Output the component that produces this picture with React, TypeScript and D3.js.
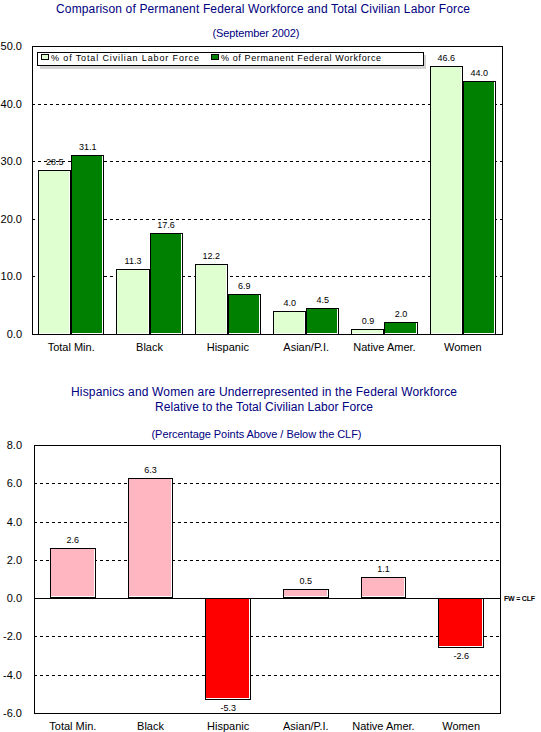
import React from "react";
import * as d3 from "d3";

const categories = ["Total Min.", "Black", "Hispanic", "Asian/P.I.", "Native Amer.", "Women"];
const clfValues = [28.5, 11.3, 12.2, 4.0, 0.9, 46.6];
const fwValues = [31.1, 17.6, 6.9, 4.5, 2.0, 44.0];
const gapValues = [2.6, 6.3, -5.3, 0.5, 1.1, -2.6];
const topTicks = [0, 10, 20, 30, 40, 50];
const bottomTicks = [-6, -4, -2, 0, 2, 4, 6, 8];
const seriesKeys = ["clf", "fw"];
const seriesNames = ["% of Total Civilian Labor Force", "% of Permanent Federal Workforce"];
const titleTop = "Comparison of Permanent Federal Workforce and Total Civilian Labor Force";
const subTitleTop = "(September 2002)";
const titleBottom = [
  "Hispanics and Women are Underrepresented in the Federal Workforce",
  "Relative to the Total Civilian Labor Force",
];
const subTitleBottom = "(Percentage Points Above / Below the CLF)";
const zeroLabel = "FW = CLF";

const W = 541;
const H = 732;
const FONT = "'Liberation Sans', Arial, sans-serif";
const NAVY = "#000080";
const LIGHT_GREEN = "#E0FFD0";
const DARK_GREEN = "#008000";
const PINK = "#FFB6C1";
const RED = "#FF0000";
const seriesColors = [LIGHT_GREEN, DARK_GREEN];

const fmt = d3.formatLocale({ decimal: ".", thousands: ",", grouping: [3], currency: ["", ""], minus: "-" }).format(".1f");

function Bar({ x, w, yA, yB, fill }: { x: number; w: number; yA: number; yB: number; fill: string }) {
  const top = Math.round(Math.min(yA, yB));
  const bot = Math.round(Math.max(yA, yB));
  const l = Math.round(x);
  const r = Math.round(x + w);
  return (
    <g>
      <rect x={l + 0.5} y={top + 0.5} width={r - l - 1} height={bot - top - 1} fill={fill} stroke="#000" />
      <polyline
        points={`${r - 1.5},${top + 1} ${r - 1.5},${bot - 1.5} ${l + 1},${bot - 1.5}`}
        fill="none"
        stroke="#fff"
      />
    </g>
  );
}

export default function App() {
  // ---------- top chart ----------
  const tL = 32, tR = 502, tT = 46, tB = 334;
  const ty = d3.scaleLinear().domain([0, 50]).range([tB, tT]);
  const tx = d3.scaleBand<string>().domain(categories).range([tL, tR]).paddingInner(0.157).paddingOuter(0.0785);
  const tsub = d3.scaleBand<string>().domain(seriesKeys).range([0, tx.bandwidth()]).padding(0);
  const seriesValues = [clfValues, fwValues];

  // ---------- bottom chart ----------
  const bL = 34, bR = 500, bT = 445, bB = 713;
  const by = d3.scaleLinear().domain([-6, 8]).range([bB, bT]);
  const bx = d3.scaleBand<string>().domain(categories).range([bL, bR]).paddingInner(0.413).paddingOuter(0.2065);

  return (
    <svg
      width={W}
      height={H}
      style={{ position: "absolute", left: 0, top: 0, background: "#fff" }}
      fontFamily={FONT}
    >
      <rect x={0} y={0} width={W} height={H} fill="#fff" />

      {/* ===== TOP CHART ===== */}
      <text x={263} y={13} textAnchor="middle" fontSize={12} fill={NAVY} textLength={414} lengthAdjust="spacing">
        {titleTop}
      </text>
      <text x={256} y={37} textAnchor="middle" fontSize={11} fill={NAVY} textLength={87} lengthAdjust="spacing">
        {subTitleTop}
      </text>

      {/* gridlines */}
      <g shapeRendering="crispEdges">
        {topTicks
          .filter((t) => t > 0 && t < 50)
          .map((t) => (
            <line key={t} x1={tL} x2={tR} y1={Math.round(ty(t)) + 0.5} y2={Math.round(ty(t)) + 0.5} stroke="#000" strokeDasharray="3,3" />
          ))}
      </g>
      {/* y tick labels */}
      {topTicks.map((t) => (
        <text key={t} x={22} y={ty(t)} dy="0.36em" textAnchor="end" fontSize={11} fill="#000">
          {fmt(t)}
        </text>
      ))}

      {/* bars */}
      <g shapeRendering="crispEdges">
        {categories.map((c, i) =>
          seriesKeys.map((k, s) => (
            <Bar
              key={c + k}
              x={(tx(c) as number) + (tsub(k) as number)}
              w={tsub.bandwidth()}
              yA={ty(seriesValues[s][i])}
              yB={ty(0) + 1}
              fill={seriesColors[s]}
            />
          ))
        )}
      </g>
      {/* value labels */}
      {categories.map((c, i) =>
        seriesKeys.map((k, s) => (
          <text
            key={"v" + c + k}
            x={(tx(c) as number) + (tsub(k) as number) + tsub.bandwidth() / 2}
            y={ty(seriesValues[s][i]) - 5}
            textAnchor="middle"
            fontSize={9}
            fill="#000"
          >
            {fmt(seriesValues[s][i])}
          </text>
        ))
      )}

      {/* frame */}
      <rect x={tL + 0.5} y={tT + 0.5} width={tR - tL} height={tB - tT} fill="none" stroke="#000" shapeRendering="crispEdges" />

      {/* category labels */}
      {categories.map((c) => (
        <text key={c} x={(tx(c) as number) + tx.bandwidth() / 2} y={351} textAnchor="middle" fontSize={11} fill="#000">
          {c}
        </text>
      ))}

      {/* legend */}
      <g shapeRendering="crispEdges">
        <rect x={40} y={55} width={386} height={14} fill="#d4d4d4" />
        <rect x={37.5} y={52.5} width={386} height={13} fill="#fff" stroke="#000" />
        {seriesNames.map((n, s) => {
          const sx = s === 0 ? 41 : 211;
          return (
            <g key={n}>
              <rect x={sx + 0.5} y={54.5} width={7} height={5} fill={seriesColors[s]} stroke="#000" />
              <text
                x={sx + 10}
                y={61}
                fontSize={9}
                fill="#000"
                textLength={s === 0 ? 148 : 160}
                lengthAdjust="spacing"
                shapeRendering="auto"
              >
                {n}
              </text>
            </g>
          );
        })}
      </g>

      {/* ===== BOTTOM CHART ===== */}
      {titleBottom.map((t, i) => (
        <text
          key={t}
          x={264}
          y={396 + i * 15}
          textAnchor="middle"
          fontSize={12}
          fill={NAVY}
          textLength={i === 0 ? 386 : 218}
          lengthAdjust="spacing"
        >
          {t}
        </text>
      ))}
      <text x={256.5} y={438} textAnchor="middle" fontSize={11} fill={NAVY} textLength={210} lengthAdjust="spacing">
        {subTitleBottom}
      </text>

      <g shapeRendering="crispEdges">
        {bottomTicks
          .filter((t) => t !== 0 && t > -6 && t < 8)
          .map((t) => (
            <line key={t} x1={bL} x2={bR} y1={Math.round(by(t)) + 0.5} y2={Math.round(by(t)) + 0.5} stroke="#000" strokeDasharray="3,3" />
          ))}
      </g>
      {bottomTicks.map((t) => (
        <text key={t} x={22} y={by(t)} dy="0.36em" textAnchor="end" fontSize={11} fill="#000">
          {fmt(t)}
        </text>
      ))}

      <g shapeRendering="crispEdges">
        {categories.map((c, i) => (
          <Bar
            key={"g" + c}
            x={bx(c) as number}
            w={bx.bandwidth()}
            yA={by(gapValues[i])}
            yB={by(0)}
            fill={gapValues[i] >= 0 ? PINK : RED}
          />
        ))}
        <line x1={bL} x2={bR} y1={Math.round(by(0)) + 0.5} y2={Math.round(by(0)) + 0.5} stroke="#000" />
        <rect x={bL + 0.5} y={bT + 0.5} width={bR - bL} height={bB - bT} fill="none" stroke="#000" />
      </g>
      {categories.map((c, i) => (
        <text
          key={"gv" + c}
          x={(bx(c) as number) + bx.bandwidth() / 2}
          y={gapValues[i] >= 0 ? by(gapValues[i]) - 5 : by(gapValues[i]) + 11.5}
          textAnchor="middle"
          fontSize={9}
          fill="#000"
        >
          {fmt(gapValues[i])}
        </text>
      ))}
      <text x={504} y={by(0)} dy="0.36em" fontSize={7} fontWeight="bold" fill="#000" textLength={31} lengthAdjust="spacing">
        {zeroLabel}
      </text>
      {categories.map((c) => (
        <text key={"bc" + c} x={(bx(c) as number) + bx.bandwidth() / 2} y={730} textAnchor="middle" fontSize={11} fill="#000">
          {c}
        </text>
      ))}
    </svg>
  );
}
